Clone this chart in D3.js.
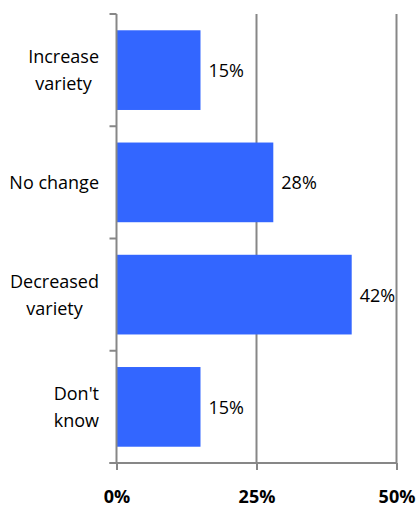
<!DOCTYPE html>
<html><head><meta charset="utf-8">
<script src="https://cdn.jsdelivr.net/npm/d3@7/dist/d3.min.js"></script>
<style>body{margin:0;background:#fff}svg{display:block}</style>
</head><body>
<script>
const categories = [["Increase","variety"],["No change"],["Decreased","variety"],["Don't","know"]];
const values = [0.15, 0.28, 0.42, 0.15];
const valueLabels = ["15%","28%","42%","15%"];
const tickValues = [0, 0.25, 0.5];
const tickLabels = ["0%","25%","50%"];

const W = 418, H = 506;
const svg = d3.select("body").append("svg").attr("width", W).attr("height", H);
const font = "'Open Sans', sans-serif";
const gray = "#878787";

const keys = categories.map(c => c.join(" "));
const x = d3.scaleLinear().domain([0, 0.5]).range([116.5, 396.5]);
const y = d3.scaleBand().domain(keys).range([14, 463]).paddingInner(0.29).paddingOuter(0.145);
const step = y.step();
const yTop = y.range()[0], yBottom = y.range()[1];

// gridlines
svg.append("g").selectAll("line").data(tickValues.slice(1)).join("line")
  .attr("x1", d => x(d)).attr("x2", d => x(d))
  .attr("y1", yTop).attr("y2", yBottom)
  .attr("stroke", gray).attr("stroke-width", 2);

// bars
svg.append("g").selectAll("rect").data(values).join("rect")
  .attr("x", x(0)).attr("y", (d, i) => y(keys[i]))
  .attr("width", d => x(d) - x(0)).attr("height", y.bandwidth())
  .attr("fill", "#3366FF");

// value labels
svg.append("g").selectAll("text").data(values).join("text")
  .attr("x", d => x(d) + 8)
  .attr("y", (d, i) => y(keys[i]) + y.bandwidth() / 2 + 7)
  .attr("font-family", font).attr("font-size", 18).attr("fill", "#000")
  .text((d, i) => valueLabels[i]);

// left axis line + ticks
const la = svg.append("g");
la.append("line").attr("x1", x(0)).attr("x2", x(0)).attr("y1", yTop).attr("y2", yBottom)
  .attr("stroke", gray).attr("stroke-width", 2);
la.selectAll("line.t").data(d3.range(keys.length + 1)).join("line").attr("class", "t")
  .attr("x1", x(0) - 7).attr("x2", x(0))
  .attr("y1", i => yTop + i * step).attr("y2", i => yTop + i * step)
  .attr("stroke", gray).attr("stroke-width", 2);

// bottom axis
const ba = svg.append("g").attr("transform", `translate(0,${yBottom})`)
  .call(d3.axisBottom(x).tickValues(tickValues).tickFormat((d, i) => tickLabels[i]).tickSize(7).tickSizeOuter(0));
ba.select(".domain").attr("stroke", gray).attr("stroke-width", 2).attr("d", `M${x(0) - 7},0H${x(0.5)}`);
ba.selectAll(".tick line").attr("stroke", gray).attr("stroke-width", 2);
ba.selectAll(".tick text").attr("font-family", font).attr("font-size", 18).attr("font-weight", "bold")
  .attr("fill", "#000").attr("y", 39.5).attr("dy", 0);

// category labels
const cl = svg.append("g");
categories.forEach((lines, i) => {
  const c = y(keys[i]) + y.bandwidth() / 2;
  const g = cl.append("g");
  const texts = lines.map((t, j) => g.append("text")
    .attr("y", c + 6.5 + (j - (lines.length - 1) / 2) * 27)
    .attr("font-family", font).attr("font-size", 18).attr("fill", "#000")
    .attr("text-anchor", "middle").text(t));
  const w = d3.max(texts, t => t.node().getComputedTextLength());
  texts.forEach(t => t.attr("x", 99 - w / 2));
});
</script>
</body></html>
